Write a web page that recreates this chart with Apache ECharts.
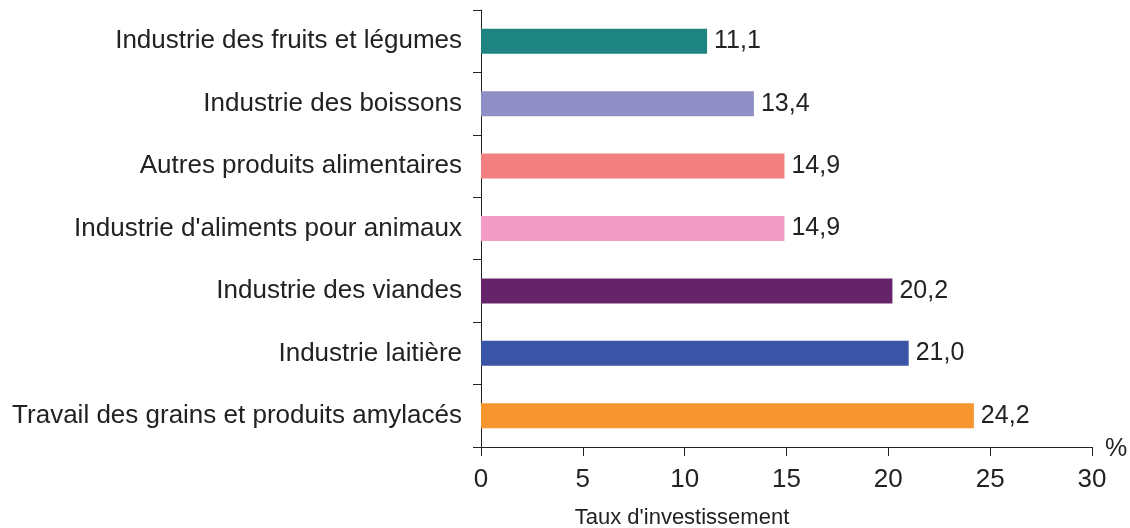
<!DOCTYPE html>
<html><head><meta charset="utf-8">
<script src="https://cdn.jsdelivr.net/npm/echarts@6/dist/echarts.min.js"></script>
<style>html,body{margin:0;padding:0;background:#fff}#c{width:1130px;height:528px}</style>
</head><body><div id="c"></div>
<script>
const categories = ["Travail des grains et produits amylacés","Industrie laitière","Industrie des viandes","Industrie d'aliments pour animaux","Autres produits alimentaires","Industrie des boissons","Industrie des fruits et légumes"];
const values = [24.2, 21.0, 20.2, 14.9, 14.9, 13.4, 11.1];
const colors = ["#f7962e","#3a55a6","#652369","#f29bc4","#f28080","#8f8fc6","#1e8482"];
const xTicks = [0,5,10,15,20,25,30];
const font = "Liberation Sans, Arial, sans-serif";
const chart = echarts.init(document.getElementById('c'));
chart.setOption({
  animation:false,
  grid:{left:481,right:38,top:10,bottom:81,containLabel:false},
  xAxis:{type:'value',min:xTicks[0],max:xTicks[xTicks.length-1],interval:xTicks[1]-xTicks[0],
    axisLine:{show:true,lineStyle:{color:'#222',width:1}},
    axisTick:{show:true,length:9,lineStyle:{color:'#222'}},
    axisLabel:{fontFamily:font,fontSize:26,color:'#222',margin:20,formatter:v=>String(v)},
    splitLine:{show:false}},
  yAxis:{type:'category',data:categories,
    axisLine:{show:true,lineStyle:{color:'#222',width:1}},
    axisTick:{show:true,length:8,lineStyle:{color:'#222'}},
    axisLabel:{fontFamily:font,fontSize:26,color:'#222',margin:19}},
  series:[{type:'bar',barWidth:25,
    data:values.map((v,i)=>({value:v,itemStyle:{color:colors[i]}})),
    label:{show:true,position:'right',distance:7,fontFamily:font,fontSize:25,color:'#222',
      formatter:p=>p.value.toFixed(1).replace('.',',')}}],
  graphic:[
    {type:'text',x:1105,y:437,style:{text:'%',font:'25px '+font,fill:'#222'}},
    {type:'text',x:682,y:507,style:{text:"Taux d'investissement",font:'22px '+font,fill:'#222',textAlign:'center'}}]
});
</script></body></html>
